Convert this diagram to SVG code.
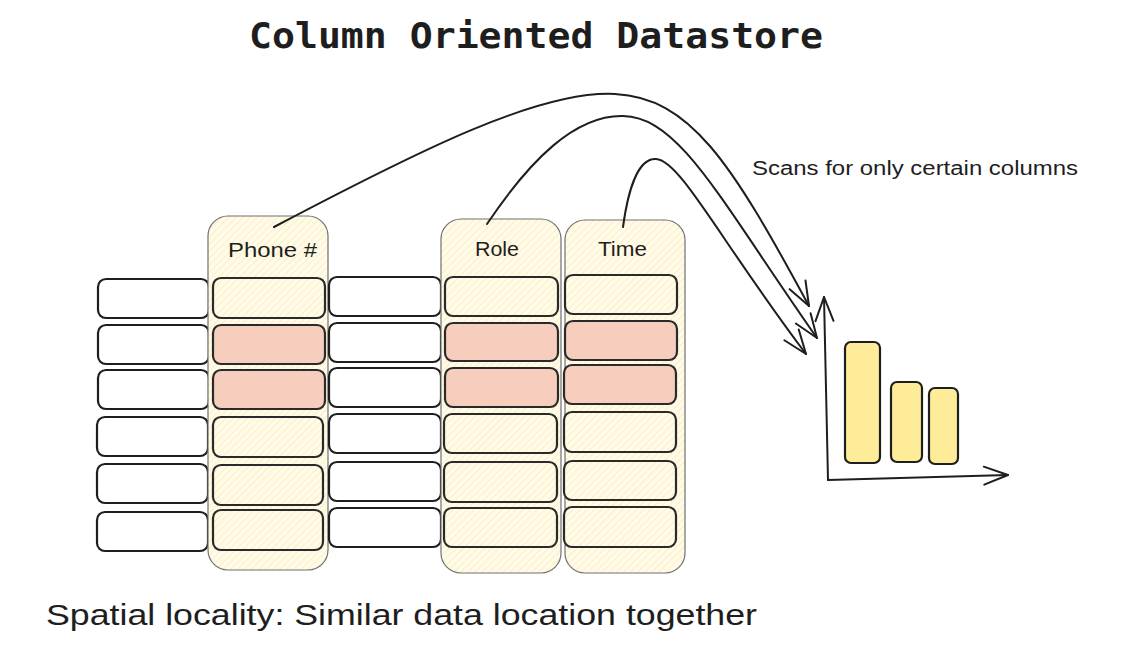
<svg xmlns="http://www.w3.org/2000/svg" width="1126" height="654" viewBox="0 0 1126 654">
<defs>
<pattern id="hy" patternUnits="userSpaceOnUse" width="5" height="5" patternTransform="rotate(45)">
<rect width="5" height="5" fill="#fffbe8"/>
<line x1="0" y1="0" x2="0" y2="5" stroke="#f7e6a6" stroke-width="1.1"/>
</pattern>
<pattern id="hp" patternUnits="userSpaceOnUse" width="5" height="5" patternTransform="rotate(45)">
<rect width="5" height="5" fill="#f6cdbf"/>
<line x1="0" y1="0" x2="0" y2="5" stroke="#f3d3ad" stroke-width="1.1"/>
</pattern>
<marker id="ah" markerUnits="userSpaceOnUse" markerWidth="40" markerHeight="40" refX="0" refY="0" viewBox="-30 -20 40 40" orient="auto" overflow="visible">
<path d="M-24,-9 L0,0 L-24,9" fill="none" stroke="#1e1e1e" stroke-width="2" stroke-linecap="round" stroke-linejoin="round"/>
</marker>
</defs>
<style>
.cont{stroke:#707070;stroke-width:1.2;fill:url(#hy)}
.cw{fill:#ffffff;stroke:#1e1e1e;stroke-width:2.2}
.cy{fill:url(#hy);stroke:#2a2a2a;stroke-width:2.2}
.cp{fill:url(#hp);stroke:#2a2a2a;stroke-width:2.2}
.bar{fill:#ffec99;stroke:#1e1e1e;stroke-width:2.2}
.hand{font-family:"Liberation Sans","DejaVu Sans",sans-serif;fill:#1e1e1e}
.conn{fill:none;stroke:#1e1e1e;stroke-width:2;stroke-linecap:round}
</style>
<rect width="1126" height="654" fill="#ffffff"/>

<g id="title">
<text x="249" y="48" font-family="DejaVu Sans Mono,Liberation Mono,monospace" font-weight="bold" font-size="36" fill="#1e1e1e" textLength="574" lengthAdjust="spacingAndGlyphs">Column Oriented Datastore</text>
</g>

<g id="col-left">
<rect class="cw" x="98" y="279" width="111" height="39" rx="8"/>
<rect class="cw" x="98" y="325" width="111" height="39" rx="8"/>
<rect class="cw" x="98" y="370" width="111" height="39" rx="8"/>
<rect class="cw" x="97" y="417" width="111" height="39" rx="8"/>
<rect class="cw" x="97" y="464" width="111" height="39" rx="8"/>
<rect class="cw" x="97" y="512" width="111" height="39" rx="8"/>
</g>

<g id="col-phone">
<rect class="cont" x="208" y="216" width="120" height="354" rx="20"/>
<text class="hand" x="228" y="257" font-size="20" textLength="89" lengthAdjust="spacingAndGlyphs">Phone #</text>
<rect class="cy" x="213" y="278" width="112" height="40" rx="8"/>
<rect class="cp" x="213" y="325" width="112" height="39" rx="8"/>
<rect class="cp" x="213" y="370" width="112" height="39" rx="8"/>
<rect class="cy" x="213" y="417" width="110" height="40" rx="8"/>
<rect class="cy" x="213" y="465" width="110" height="40" rx="8"/>
<rect class="cy" x="213" y="510" width="110" height="40" rx="8"/>
</g>

<g id="col-middle">
<rect class="cw" x="329" y="277" width="112" height="39" rx="8"/>
<rect class="cw" x="329" y="323" width="112" height="39" rx="8"/>
<rect class="cw" x="329" y="368" width="112" height="39" rx="8"/>
<rect class="cw" x="329" y="414" width="112" height="39" rx="8"/>
<rect class="cw" x="329" y="462" width="112" height="39" rx="8"/>
<rect class="cw" x="329" y="508" width="112" height="39" rx="8"/>
</g>

<g id="col-role">
<rect class="cont" x="441" y="219" width="120" height="354" rx="20"/>
<text class="hand" x="475" y="256" font-size="20" textLength="44" lengthAdjust="spacingAndGlyphs">Role</text>
<rect class="cy" x="445" y="277" width="113" height="39" rx="8"/>
<rect class="cp" x="445" y="323" width="113" height="38" rx="8"/>
<rect class="cp" x="445" y="368" width="113" height="39" rx="8"/>
<rect class="cy" x="444" y="414" width="113" height="39" rx="8"/>
<rect class="cy" x="444" y="462" width="113" height="40" rx="8"/>
<rect class="cy" x="444" y="508" width="113" height="39" rx="8"/>
</g>

<g id="col-time">
<rect class="cont" x="565" y="220" width="120" height="353" rx="20"/>
<text class="hand" x="598" y="256" font-size="20" textLength="49" lengthAdjust="spacingAndGlyphs">Time</text>
<rect class="cy" x="565" y="275" width="112" height="39" rx="8"/>
<rect class="cp" x="565" y="321" width="112" height="39" rx="8"/>
<rect class="cp" x="564" y="365" width="112" height="39" rx="8"/>
<rect class="cy" x="564" y="412" width="112" height="40" rx="8"/>
<rect class="cy" x="564" y="461" width="112" height="39" rx="8"/>
<rect class="cy" x="564" y="507" width="112" height="40" rx="8"/>
</g>

<g id="chart">
<rect class="bar" x="845" y="342" width="35" height="121" rx="6"/>
<rect class="bar" x="891" y="382" width="31" height="80" rx="6"/>
<rect class="bar" x="929" y="388" width="29" height="76" rx="6"/>
<path class="conn" d="M828,480 L824,297" stroke-width="2.6" marker-end="url(#ah)"/>
<path class="conn" d="M828,480 L1008,475" stroke-width="2.6" marker-end="url(#ah)"/>
</g>

<g id="connectors">
<path class="conn" d="M274,227 C420,150 540,90 615,94 C690,98 730,160 809,306" stroke-width="2.2" marker-end="url(#ah)"/>
<path class="conn" d="M487,224 C530,160 575,115 623,116 C680,117 720,200 817,338" stroke-width="2.4" marker-end="url(#ah)"/>
<path class="conn" d="M623,227 C628,190 638,158 656,159 C680,160 720,240 806,354" marker-end="url(#ah)"/>
</g>

<g id="label-scans">
<text class="hand" x="752" y="175" font-size="20" textLength="326" lengthAdjust="spacingAndGlyphs">Scans for only certain columns</text>
</g>

<g id="label-spatial">
<text class="hand" x="46" y="625" font-size="30" textLength="711" lengthAdjust="spacingAndGlyphs">Spatial locality: Similar data location together</text>
</g>
</svg>
